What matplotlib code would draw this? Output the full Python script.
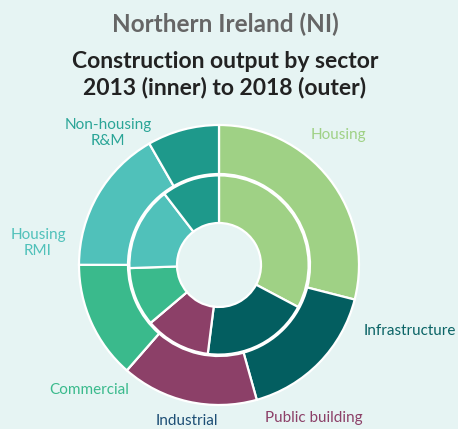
import matplotlib.pyplot as plt

# construction output shares (%) by sector, clockwise from 12 o'clock
sectors = ["Housing", "Infrastructure", "Public building", "Industrial",
           "Commercial", "Housing RMI", "Non-housing R&M"]
share_2013 = [32.7, 19.2, 11.8, 0.0, 10.6, 15.1, 10.4]
share_2018 = [29.0, 16.7, 15.8, 0.0, 13.6, 16.7, 8.3]

colours = ["#9fd185", "#035e60", "#8c4068", "#1d4e75",
           "#3aba8c", "#50c1ba", "#1e998b"]
label_colours = ["#9fd185", "#0b6466", "#8c4068", "#1d4e75",
                 "#3aba8c", "#50c1ba", "#2aa597"]

bg = "#e6f4f3"
W, H = 458, 429
plt.rcParams['font.family'] = ['Lato', 'DejaVu Sans']

fig = plt.figure(figsize=(W / 100, H / 100), dpi=100)
fig.patch.set_facecolor(bg)

# pie axes: centre at (219, 265) px, outer radius 140 px
cx, cy, R = 219, 265, 140
half = 150
ax = fig.add_axes([(cx - half) / W, (H - cy - half) / H, 2 * half / W, 2 * half / H])
ax.set_aspect("equal")
ax.axis("off")

wedge = dict(edgecolor="white", linewidth=1.6)
ax.pie(share_2018, colors=colours, radius=1.0, startangle=90, counterclock=False,
       wedgeprops=dict(width=0.35, **wedge))
ax.pie(share_2013, colors=colours, radius=0.64, startangle=90, counterclock=False,
       wedgeprops=dict(width=0.34, **wedge))
ax.set_xlim(-half / R, half / R)
ax.set_ylim(-half / R, half / R)


def px(x, y):
    return x / W, 1 - y / H


fig.text(*px(225, 24), "Northern Ireland (NI)", ha="center", va="center",
         fontsize=17.5, fontweight="bold", color="#666666")
fig.text(*px(225, 61), "Construction output by sector", ha="center", va="center",
         fontsize=16.5, fontweight="bold", color="#222222")
fig.text(*px(225, 88), "2013 (inner) to 2018 (outer)", ha="center", va="center",
         fontsize=16.5, fontweight="bold", color="#222222")

# sector labels around the rings
label_pos = {
    "Housing": (338, 135, "center"),
    "Infrastructure": (364, 331, "left"),
    "Public building": (314, 418, "center"),
    "Industrial": (187, 421, "center"),
    "Commercial": (89, 390, "center"),
    "Housing RMI": (38, 243, "center"),
    "Non-housing R&M": (108, 133, "center"),
}
label_text = {"Housing RMI": "Housing\nRMI", "Non-housing R&M": "Non-housing\nR&M"}
for name, col in zip(sectors, label_colours):
    x, y, ha = label_pos[name]
    fig.text(*px(x, y), label_text.get(name, name), ha=ha, va="center",
             fontsize=11, color=col, linespacing=1.25, multialignment="center")

fig.savefig("out.png", dpi=100, facecolor=bg)
